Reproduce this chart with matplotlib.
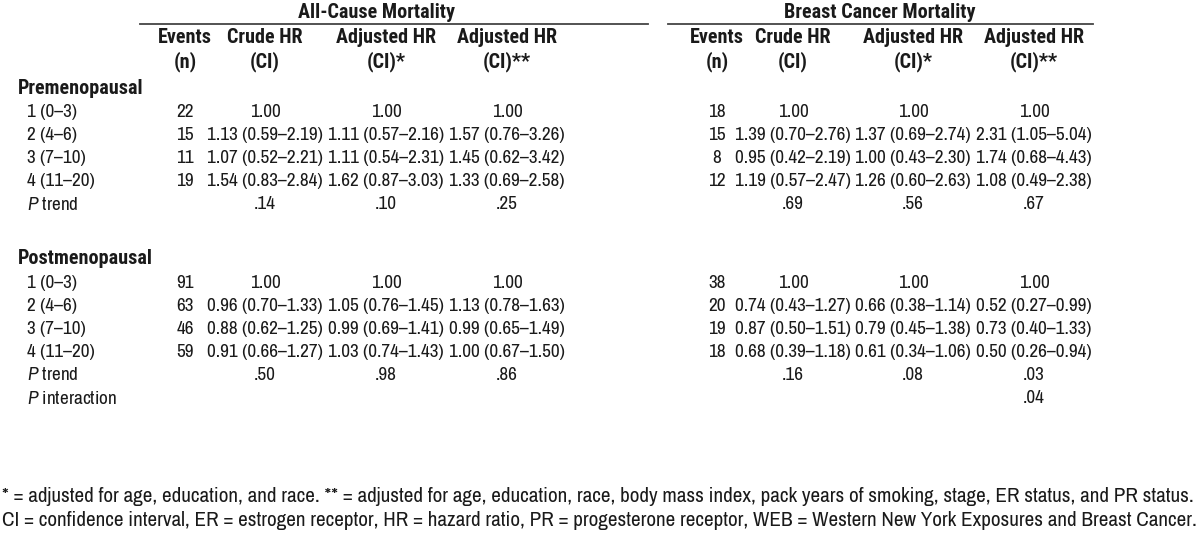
import matplotlib.pyplot as plt

plt.rcParams['font.family'] = ['Archivo Narrow', 'DejaVu Sans']
plt.rcParams['mathtext.fontset'] = 'custom'
plt.rcParams['mathtext.it'] = 'Archivo Narrow:italic'
plt.rcParams['mathtext.rm'] = 'Archivo Narrow'

# group titles and column headers
groups = ['All-Cause Mortality', 'Breast Cancer Mortality']
col_heads = ['Events\n(n)', 'Crude HR\n(CI)', 'Adjusted HR\n(CI)*', 'Adjusted HR\n(CI)**']
row_labels = ['1 (0–3)', '2 (4–6)', '3 (7–10)', '4 (11–20)']

# premenopausal
pre_all_events = ['22', '15', '11', '19']
pre_all_crude = ['1.00', '1.13 (0.59–2.19)', '1.07 (0.52–2.21)', '1.54 (0.83–2.84)']
pre_all_adj1 = ['1.00', '1.11 (0.57–2.16)', '1.11 (0.54–2.31)', '1.62 (0.87–3.03)']
pre_all_adj2 = ['1.00', '1.57 (0.76–3.26)', '1.45 (0.62–3.42)', '1.33 (0.69–2.58)']
pre_all_trend = ['.14', '.10', '.25']
pre_bc_events = ['18', '15', '8', '12']
pre_bc_crude = ['1.00', '1.39 (0.70–2.76)', '0.95 (0.42–2.19)', '1.19 (0.57–2.47)']
pre_bc_adj1 = ['1.00', '1.37 (0.69–2.74)', '1.00 (0.43–2.30)', '1.26 (0.60–2.63)']
pre_bc_adj2 = ['1.00', '2.31 (1.05–5.04)', '1.74 (0.68–4.43)', '1.08 (0.49–2.38)']
pre_bc_trend = ['.69', '.56', '.67']

# postmenopausal
post_all_events = ['91', '63', '46', '59']
post_all_crude = ['1.00', '0.96 (0.70–1.33)', '0.88 (0.62–1.25)', '0.91 (0.66–1.27)']
post_all_adj1 = ['1.00', '1.05 (0.76–1.45)', '0.99 (0.69–1.41)', '1.03 (0.74–1.43)']
post_all_adj2 = ['1.00', '1.13 (0.78–1.63)', '0.99 (0.65–1.49)', '1.00 (0.67–1.50)']
post_all_trend = ['.50', '.98', '.86']
post_bc_events = ['38', '20', '19', '18']
post_bc_crude = ['1.00', '0.74 (0.43–1.27)', '0.87 (0.50–1.51)', '0.68 (0.39–1.18)']
post_bc_adj1 = ['1.00', '0.66 (0.38–1.14)', '0.79 (0.45–1.38)', '0.61 (0.34–1.06)']
post_bc_adj2 = ['1.00', '0.52 (0.27–0.99)', '0.73 (0.40–1.33)', '0.50 (0.26–0.94)']
post_bc_trend = ['.16', '.08', '.03']
p_interaction = '.04'

footnotes = [
    '* = adjusted for age, education, and race. ** = adjusted for age, education, race, body mass index, pack years of smoking, stage, ER status, and PR status.',
    'CI = confidence interval, ER = estrogen receptor, HR = hazard ratio, PR = progesterone receptor, WEB = Western New York Exposures and Breast Cancer.',
]

fig = plt.figure(figsize=(12, 5.46), dpi=100)
ax = fig.add_axes([0, 0, 1, 1])
ax.set_xlim(0, 1200)
ax.set_ylim(546, 0)
ax.axis('off')

fs = 13.8
fs_note = 15.2
bold = dict(family=['Roboto Condensed', 'DejaVu Sans'], fontweight='bold', fontsize=14.5)
ink = '#1a1a1a'
col_x = [185, 265, 386, 507, 717, 793, 913, 1034]
grp_x = [377, 880]
grp_lines = [(140, 648), (668, 1093)]

for g, gx, (x0, x1) in zip(groups, grp_x, grp_lines):
    ax.text(gx, 12, g, ha='center', va='center', color=ink, **bold)
    ax.plot([x0, x1], [24, 24], color='#444444', lw=1.3)

for i, x in enumerate(col_x):
    h = col_heads[i % 4]
    ax.text(x, 50, h, ha='center', va='center', linespacing=1.25, color=ink, **bold)


def block(y_head, title, cols, trends, y0):
    ax.text(18, y_head, title, ha='left', va='center', color=ink, **bold)
    for r, lab in enumerate(row_labels):
        y = y0 + r * 23
        ax.text(27, y, lab, ha='left', va='center', fontsize=fs, color=ink)
        for x, c in zip(col_x, cols):
            ax.text(x, y, c[r], ha='center', va='center', fontsize=fs, color=ink)
    yt = y0 + 4 * 23
    ax.text(27, yt, '$\\it{P}$ trend', ha='left', va='center', fontsize=fs, color=ink)
    trend_x = col_x[1:4] + col_x[5:8]
    for x, t in zip(trend_x, trends):
        ax.text(x, yt, t, ha='center', va='center', fontsize=fs, color=ink)
    return yt


block(89, 'Premenopausal',
      [pre_all_events, pre_all_crude, pre_all_adj1, pre_all_adj2,
       pre_bc_events, pre_bc_crude, pre_bc_adj1, pre_bc_adj2],
      pre_all_trend + pre_bc_trend, 112)
yt = block(258, 'Postmenopausal',
           [post_all_events, post_all_crude, post_all_adj1, post_all_adj2,
            post_bc_events, post_bc_crude, post_bc_adj1, post_bc_adj2],
           post_all_trend + post_bc_trend, 283)

ax.text(27, yt + 23, '$\\it{P}$ interaction', ha='left', va='center', fontsize=fs, color=ink)
ax.text(col_x[7], yt + 23, p_interaction, ha='center', va='center', fontsize=fs, color=ink)

for k, line in enumerate(footnotes):
    ax.text(2, 497 + k * 23, line, ha='left', va='center', fontsize=fs_note, color=ink)

fig.savefig('out.png', dpi=100)
